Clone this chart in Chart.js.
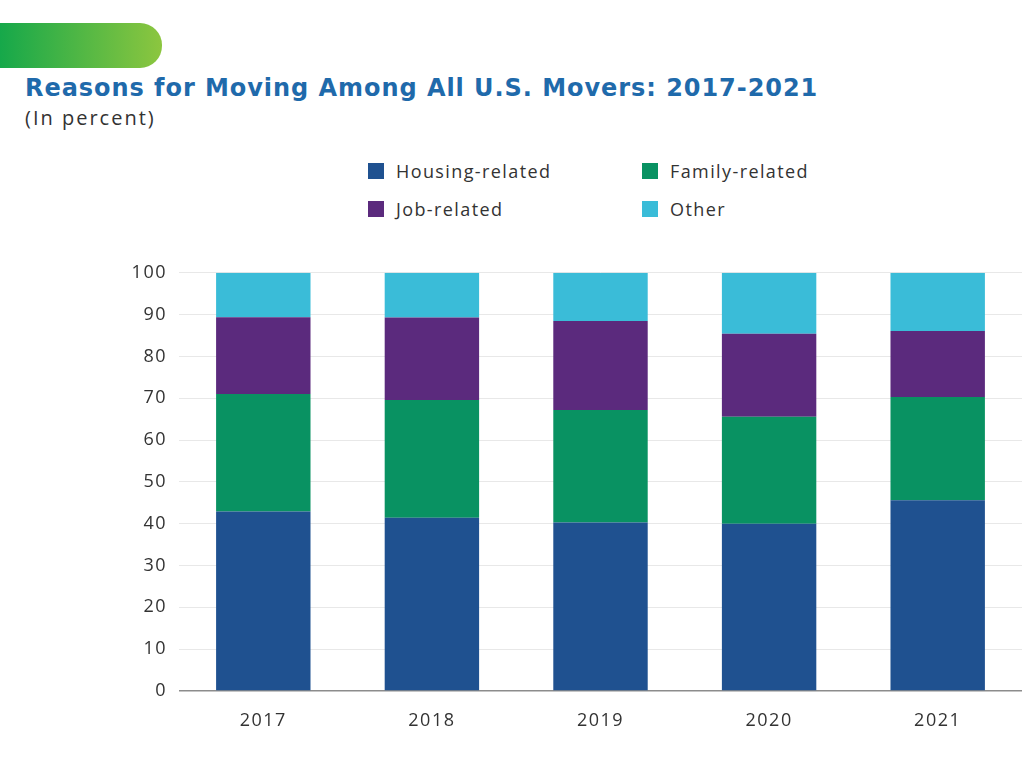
<!DOCTYPE html>
<html>
<head>
<meta charset="utf-8">
<script src="https://cdn.jsdelivr.net/npm/chart.js@4.4.1/dist/chart.umd.min.js"></script>
<style>
    body { margin: 0; width: 1024px; height: 768px; background: #fff; overflow: hidden; position: relative; font-family: "Open Sans", sans-serif; }
    .pill { position: absolute; left: 0; top: 23px; width: 162px; height: 45px; border-radius: 0 22px 22px 0; background: linear-gradient(to right, #16a84a, #8cc63f); }
    h1 { position: absolute; left: 25px; top: 74px; margin: 0; font-family: "DejaVu Sans", sans-serif; font-size: 24px; font-weight: 700; color: #1f6aab; white-space: nowrap; letter-spacing: 0.95px; }
    .sub { position: absolute; left: 25px; top: 104px; font-size: 20px; color: #333; letter-spacing: 2px; }
    #legend { position: absolute; left: 368px; top: 159px; display: grid; grid-template-columns: 274px 200px; row-gap: 14px; }
    #legend div { display: flex; align-items: center; font-size: 18px; color: #333; height: 24px; letter-spacing: 1.4px; }
    #legend span { display: inline-block; width: 16px; height: 16px; margin-right: 12px; }
    #wrap { position: absolute; left: 0; top: 250px; width: 1024px; height: 510px; }
</style>
</head>
<body>
<div class="pill"></div>
<h1>Reasons for Moving Among All U.S. Movers: 2017-2021</h1>
<div class="sub">(In percent)</div>
<div id="legend"></div>
<div id="wrap"><canvas id="chart"></canvas></div>
<script>
const years = ['2017', '2018', '2019', '2020', '2021'];
const housing = [42.9, 41.4, 40.3, 40.0, 45.6];
const family = [28.1, 28.2, 26.9, 25.6, 24.7];
const job = [18.4, 19.7, 21.3, 19.8, 15.8];
const other = [10.6, 10.7, 11.5, 14.6, 13.9];
const yTicks = [0, 10, 20, 30, 40, 50, 60, 70, 80, 90, 100];

const series = [
    { label: 'Housing-related', data: housing, color: '#1f5190' },
    { label: 'Job-related', data: job, color: '#5b2a7d' },
    { label: 'Family-related', data: family, color: '#099262' },
    { label: 'Other', data: other, color: '#3abcd8' }
];

// legend in 2 columns (housing, family / job, other)
var legendOrder = [0, 2, 1, 3];
var legend = document.getElementById('legend');
legendOrder.forEach(function(i) {
    var d = document.createElement('div');
    d.innerHTML = '<span style="background:' + series[i].color + '"></span>' + series[i].label;
    legend.appendChild(d);
});

// stacking order bottom to top: housing, family, job, other
var stackOrder = [0, 2, 1, 3];
var datasets = stackOrder.map(function(i) {
    return {
        label: series[i].label,
        data: series[i].data,
        backgroundColor: series[i].color,
        borderWidth: 0,
        barPercentage: 0.56,
        categoryPercentage: 1.0
    };
});

// wider tick text, like the original typeface
const spacing = {
    id: 'spacing',
    beforeDraw: function(chart) { chart.ctx.letterSpacing = '1.5px'; }
};

const ctx = document.getElementById('chart').getContext('2d');
new Chart(ctx, {
    type: 'bar',
    data: { labels: years, datasets: datasets },
    plugins: [spacing],
    options: {
        responsive: true,
        maintainAspectRatio: false,
        animation: false,
        layout: { padding: { top: 22, right: 2, left: 0, bottom: 0 } },
        plugins: {
            legend: { display: false },
            tooltip: { enabled: false }
        },
        scales: {
            x: {
                stacked: true,
                grid: { display: false, drawTicks: false },
                border: { display: false },
                ticks: { color: '#333', font: { family: 'Open Sans', size: 18 }, padding: 19 },
                afterFit: function(axis) { axis.height = 69; }
            },
            y: {
                stacked: true,
                min: 0,
                max: 100,
                afterBuildTicks: function(axis) {
                    axis.ticks = yTicks.map(function(v) { return { value: v }; });
                },
                grid: {
                    drawTicks: false,
                    color: function(c) { return c.tick && c.tick.value === 0 ? '#8c8c8c' : '#e8e8e8'; },
                    lineWidth: function(c) { return c.tick && c.tick.value === 0 ? 1.5 : 1; }
                },
                border: { display: false },
                ticks: { color: '#333', font: { family: 'Open Sans', size: 18 }, padding: 12 },
                afterFit: function(axis) { axis.width = 179; }
            }
        }
    }
});
</script>
</body>
</html>
